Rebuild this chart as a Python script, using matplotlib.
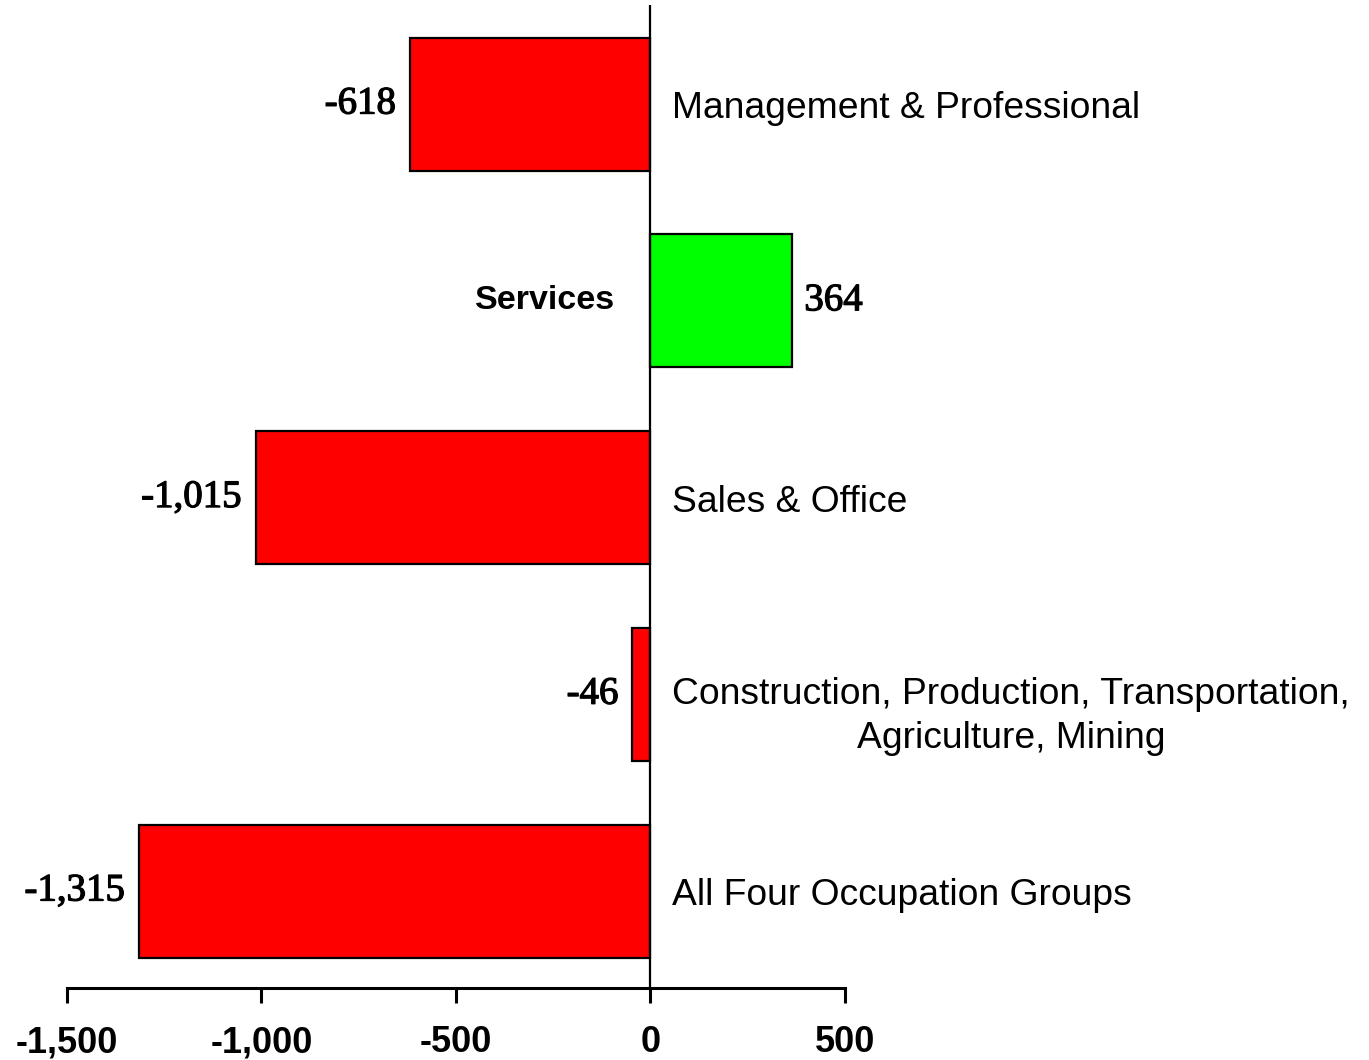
import matplotlib
matplotlib.use("Agg")
import matplotlib.pyplot as plt
import matplotlib.patheffects as pe

categories = ["Management & Professional", "Services", "Sales & Office",
              "Construction, Production, Transportation,\nAgriculture, Mining",
              "All Four Occupation Groups"]
values = [-618, 364, -1015, -46, -1315]
value_labels = ["-618", "364", "-1,015", "-46", "-1,315"]
colors = ["#FF0000", "#00FF00", "#FF0000", "#FF0000", "#FF0000"]
xticks = [-1500, -1000, -500, 0, 500]
xtick_labels = ["-1,500", "-1,000", "-500", "0", "500"]

fig = plt.figure(figsize=(13.69, 10.60), dpi=100)
ax = fig.add_axes([0, 0, 1, 1])
ax.set_xlim(-1672, 1848)
ax.set_ylim(4.859, -0.529)

ypos = list(range(len(categories)))
ax.barh(ypos, values, height=0.676, color=colors, edgecolor="black", linewidth=1.6, zorder=2)

ax.vlines(0, -0.503, 4.493, color="black", linewidth=1.6, zorder=3)

for sp in ["top", "left", "right"]:
    ax.spines[sp].set_visible(False)
ax.spines["bottom"].set_position(("data", 4.493))
ax.spines["bottom"].set_bounds(-1500, 500)
ax.spines["bottom"].set_linewidth(2.2)
ax.set_yticks([])
ax.set_xticks(xticks)
ax.set_xticklabels(xtick_labels, fontfamily="Liberation Sans", fontweight="bold", fontsize=26)
ax.tick_params(axis="x", direction="out", length=11, width=2.2, pad=16)

stroke = [pe.withStroke(linewidth=0.9, foreground="black")]
for y, v, lab, cat in zip(ypos, values, value_labels, categories):
    if v < 0:
        ax.annotate(lab, (v, y), xytext=(-10, 0), textcoords="offset points",
                    ha="right", va="center", fontfamily="Liberation Serif",
                    fontsize=28, path_effects=stroke)
        dy = -16 if "\n" in cat else -3.5
        ax.annotate(cat, (0, y), xytext=(16, dy), textcoords="offset points",
                    ha="left", va="center", multialignment="center",
                    fontfamily="Liberation Sans", fontsize=26.8, linespacing=1.33)
    else:
        ax.annotate(lab, (v, y), xytext=(9, 0), textcoords="offset points",
                    ha="left", va="center", fontfamily="Liberation Serif",
                    fontsize=28, path_effects=stroke)
        ax.annotate(cat, (0, y), xytext=(-25, 0), textcoords="offset points",
                    ha="right", va="center", fontfamily="Liberation Sans",
                    fontweight="bold", fontsize=24.5)

fig.savefig("out.png", dpi=100)
